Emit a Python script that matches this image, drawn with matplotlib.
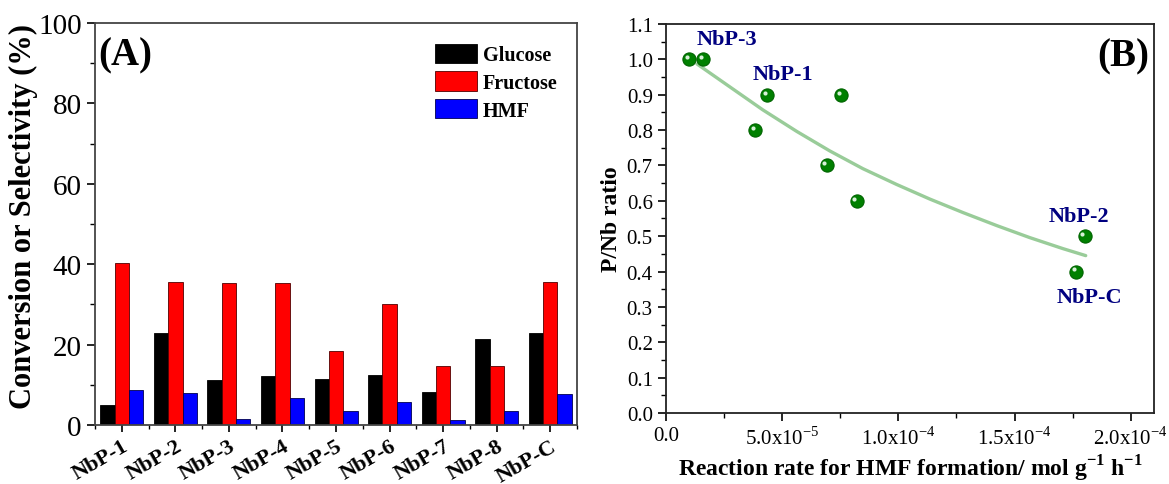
import numpy as np
import matplotlib
matplotlib.use("Agg")
import matplotlib.pyplot as plt
import matplotlib.transforms as mtransforms
from matplotlib.ticker import MultipleLocator, FixedLocator, FormatStrFormatter

plt.rcParams["font.family"] = "Liberation Serif"
plt.rcParams["mathtext.fontset"] = "custom"
plt.rcParams["mathtext.rm"] = "Liberation Serif"
plt.rcParams["mathtext.bf"] = "Liberation Serif:bold"

# panel A data
catalysts = ["NbP-1", "NbP-2", "NbP-3", "NbP-4", "NbP-5", "NbP-6", "NbP-7", "NbP-8", "NbP-C"]
glucose = [5.1, 22.8, 11.1, 12.2, 11.5, 12.4, 8.3, 21.5, 22.8]
fructose = [40.2, 35.7, 35.4, 35.4, 18.3, 30.2, 14.6, 14.8, 35.7]
hmf = [8.8, 8.0, 1.6, 6.8, 3.4, 5.7, 1.2, 3.6, 7.8]

# panel B data
rate = [0.99e-5, 1.58e-5, 4.36e-5, 3.84e-5, 7.55e-5, 6.91e-5, 8.2e-5, 1.801e-4, 1.764e-4]
pnb = [1.0, 1.0, 0.9, 0.8, 0.9, 0.7, 0.6, 0.5, 0.4]
# fitted curve
fit_x = [1.333e-5, 2.751e-5, 4.170e-5, 5.632e-5, 7.050e-5, 8.469e-5, 9.931e-5,
         1.135e-4, 1.277e-4, 1.423e-4, 1.565e-4, 1.707e-4, 1.806e-4]
fit_y = [0.987, 0.922, 0.857, 0.796, 0.741, 0.691, 0.646,
         0.605, 0.567, 0.530, 0.496, 0.465, 0.445]
point_labels = ["NbP-3", "NbP-1", "NbP-2", "NbP-C"]
label_x = [1.34e-5, 3.73e-5, 1.648e-4, 1.68e-4]
label_y = [1.058, 0.959, 0.558, 0.328]
xticks_b = [0, 5e-5, 1e-4, 1.5e-4, 2e-4]
xticklabels_b = ["0.0", "5.0x10$^{-5}$", "1.0x10$^{-4}$", "1.5x10$^{-4}$", "2.0x10$^{-4}$"]

fig = plt.figure(figsize=(11.69, 4.85), dpi=100)

# ---------- (A) ----------
ax = fig.add_axes([0.0813, 0.1216, 0.4123, 0.8289])
x = np.arange(len(catalysts))
w = 0.268
ax.bar(x - w, glucose, w, color="black", edgecolor="black", lw=0.6, label="Glucose")
ax.bar(x, fructose, w, color="#ff0000", edgecolor="#500000", lw=0.6, label="Fructose")
ax.bar(x + w, hmf, w, color="#0000ff", edgecolor="#000050", lw=0.6, label="HMF")
ax.set_xlim(-0.5, 8.5)
ax.set_ylim(0, 100)
ax.yaxis.set_major_locator(MultipleLocator(20))
ax.yaxis.set_minor_locator(MultipleLocator(10))
ax.set_xticks(x)
ax.xaxis.set_minor_locator(FixedLocator(np.arange(-0.5, 9, 1)))
ax.set_xticklabels(catalysts, rotation=30, ha="right", rotation_mode="anchor",
                   fontsize=16, fontweight="bold")
ax.tick_params(axis="y", which="major", labelsize=21, length=6, width=1.2, direction="out")
ax.tick_params(axis="y", which="minor", length=3.5, width=1.0, direction="out")
ax.tick_params(axis="x", which="major", length=5, width=1.2, direction="out", pad=3)
ax.tick_params(axis="x", which="minor", length=3, width=1.0, direction="out")
for s in ax.spines.values():
    s.set_color("#444444")
    s.set_linewidth(1.3)
ax.set_ylabel("Conversion or Selectivity (%)", fontsize=22, fontweight="bold")
ax.yaxis.set_label_coords(-0.118, 0.522)
ax.text(-0.44, 92, "(A)", fontsize=28, fontweight="bold", va="center", ha="left")
ax.legend(loc="upper left", bbox_to_anchor=(0.705, 0.948), frameon=False,
          prop={"weight": "bold", "size": 14.5}, handlelength=2.1, handleheight=1.1,
          labelspacing=0.3, handletextpad=0.3, borderpad=0, borderaxespad=0)

# ---------- (B) ----------
bx = fig.add_axes([0.5697, 0.1464, 0.4175, 0.8021])
bx.plot(fit_x, fit_y, color="#99cc99", lw=2.4, solid_capstyle="round",
        solid_joinstyle="round", zorder=2)
bx.plot(rate, pnb, "o", ms=9.5, color="#008000", mec="#006400", mew=0.8, zorder=3)
shift = mtransforms.offset_copy(bx.transData, fig=fig, x=-1.5, y=1.5, units="points")
bx.plot(rate, pnb, "o", ms=3, color="#d8f0d8", mew=0, transform=shift, zorder=4)
for t, lx, ly in zip(point_labels, label_x, label_y):
    bx.text(lx, ly, t, color="#000080", fontsize=16, fontweight="bold", va="center", ha="left")
bx.text(2.08e-4, 1.01, "(B)", fontsize=28, fontweight="bold", va="center", ha="right")
bx.set_xlim(0, 2.1e-4)
bx.set_ylim(0, 1.1)
bx.set_xticks(xticks_b)
bx.set_xticklabels(xticklabels_b)
bx.xaxis.set_minor_locator(MultipleLocator(2.5e-5))
bx.yaxis.set_major_locator(MultipleLocator(0.1))
bx.yaxis.set_minor_locator(MultipleLocator(0.05))
bx.yaxis.set_major_formatter(FormatStrFormatter("%.1f"))
bx.tick_params(which="major", labelsize=15, length=6, width=1.2, direction="out")
bx.tick_params(which="minor", length=3.5, width=1.0, direction="out")
for s in bx.spines.values():
    s.set_color("#222222")
    s.set_linewidth(1.3)
bx.set_ylabel("P/Nb ratio", fontsize=17, fontweight="bold", labelpad=3)
bx.set_xlabel(r"Reaction rate for HMF formation/ mol g$^{\mathbf{-1}}$ h$^{\mathbf{-1}}$",
              fontsize=17, fontweight="bold", labelpad=3)

fig.savefig("out.png", dpi=100)
